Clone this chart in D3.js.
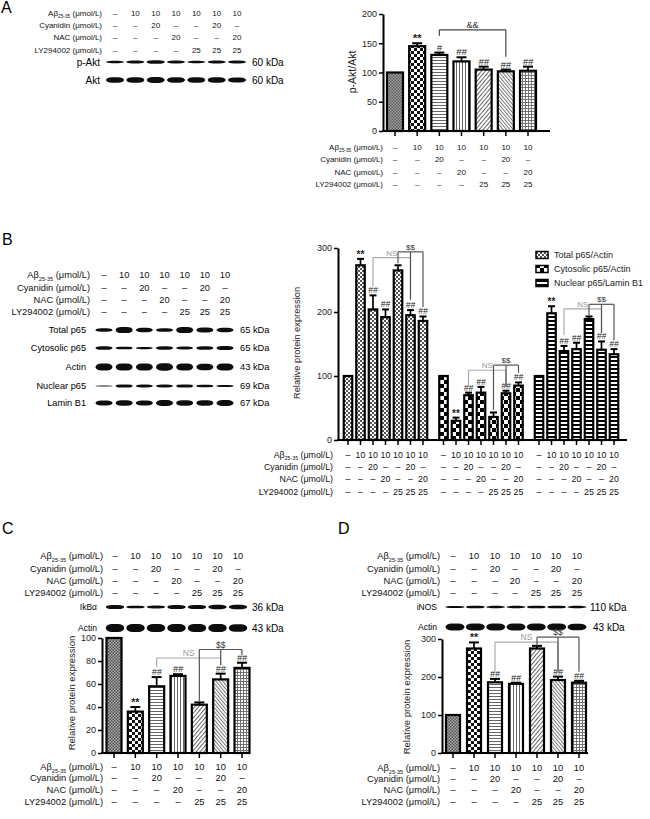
<!DOCTYPE html>
<html><head><meta charset="utf-8">
<script src="https://cdn.jsdelivr.net/npm/d3@7"></script>
<style>body{margin:0;background:#fff} svg{display:block;font-family:Arial,"Liberation Sans",sans-serif}</style>
</head><body><svg id="c" width="650" height="819"></svg>
<script>
// ---------------- DATA ----------------
const condNames = ["Aβ25-35 (μmol/L)", "Cyanidin (μmol/L)", "NAC (μmol/L)", "LY294002 (μmol/L)"];
const abetaDose = ["–","10","10","10","10","10","10"];
const cyanidinDose = ["–","–","20","–","–","20","–"];
const nacDose = ["–","–","–","20","–","–","20"];
const lyDose = ["–","–","–","–","25","25","25"];
const doseRows = [abetaDose, cyanidinDose, nacDose, lyDose];

// Panel A
const pAktMean = [100,145,130,119,105,102,103];
const pAktSem  = [0,5,4,7,5,3,7];
const pAktMarks = ["","**","#","##","##","##","##"];
const aTicks = [0,50,100,150,200];
const aBrackets = [{label:"&&", color:"#444", from:2, to:5, level:173, drops:[[2,163],[5,127]]}];

// Panel B
const p65Series = ["Total p65/Actin","Cytosolic p65/Actin","Nuclear p65/Lamin B1"];
const totalP65Mean = [100,273,204,192,265,195,186];
const totalP65Sem  = [0,10,22,12,8,8,7];
const cytoP65Mean  = [100,30,70,74,36,73,85];
const cytoP65Sem   = [0,5,4,9,7,4,5];
const nucP65Mean   = [100,198,139,142,189,141,134];
const nucP65Sem    = [0,11,8,10,4,13,8];
const bTicks = [0,100,200,300];
const sigMarks = ["","**","##","##","","##","##"];
const bBrackets = [
  [{label:"NS", color:"#aaa", from:2, to:5, level:285, drops:[[2,240],[5,219]]},
   {label:"$$", color:"#555", from:4, to:6, level:294, drops:[[4,276],[5,219],[6,208]]}],
  [{label:"NS", color:"#aaa", from:2, to:5, level:109, drops:[[2,83],[5,83]]},
   {label:"$$", color:"#555", from:4, to:6, level:117, drops:[[4,47],[5,83],[6,105]]}],
  [{label:"NS", color:"#aaa", from:2, to:5, level:205, drops:[[2,164],[5,167]]},
   {label:"$$", color:"#555", from:4, to:6, level:212, drops:[[4,193],[5,167],[6,156]]}]
];

// Panel C
const ikbaMean = [100,36,58,67,42,64,74];
const ikbaSem  = [0,4,8,1.5,2,5,4.5];
const cTicks = [0,20,40,60,80,100];
const cBrackets = [
  {label:"NS", color:"#aaa", from:2, to:5, level:82.6, drops:[[2,75],[5,76.5]]},
  {label:"$$", color:"#555", from:4, to:6, level:90, drops:[[4,44.6],[5,76.5],[6,85]]}
];

// Panel D
const inosMean = [100,275,186,182,275,192,185];
const inosSem  = [0,16,9,3,7,9,5];
const dTicks = [0,100,200,300];
const dBrackets = [
  {label:"NS", color:"#aaa", from:2, to:5, level:292, drops:[[2,214],[5,214]]},
  {label:"$$", color:"#555", from:4, to:6, level:305, drops:[[4,282],[5,214],[6,214]]}
];

// Western blot band intensities (relative thickness per lane)
const blotA = [
  {name:"p-Akt", kda:"60 kDa", band:[0.7,0.9,1.0,0.9,0.7,0.8,0.8]},
  {name:"Akt",   kda:"60 kDa", band:[1.0,1.0,1.05,1.0,1.0,1.0,0.95]}
];
const blotB = [
  {name:"Total p65",     kda:"65 kDa", band:[0.6,1.1,0.8,0.65,1.1,0.9,0.8]},
  {name:"Cytosolic p65", kda:"65 kDa", band:[0.8,0.6,0.5,0.8,0.7,0.8,0.9]},
  {name:"Actin",         kda:"43 kDa", band:[1.0,1.0,1.0,1.05,1.0,0.95,1.0]},
  {name:"Nuclear p65",   kda:"69 kDa", band:[0.2,0.8,0.7,0.7,0.8,0.6,0.5]},
  {name:"Lamin B1",      kda:"67 kDa", band:[0.8,0.9,0.8,1.0,0.9,0.9,1.0]}
];
const blotC = [
  {name:"IkBα",  kda:"36 kDa", band:[0.9,0.6,0.7,0.9,0.9,1.0,1.0]},
  {name:"Actin", kda:"43 kDa", band:[1.0,1.0,1.0,1.0,1.0,1.0,0.95]}
];
const blotD = [
  {name:"iNOS",  kda:"110 kDa", band:[0.7,0.9,0.8,0.8,0.9,0.9,0.8]},
  {name:"Actin", kda:"43 kDa",  band:[1.0,1.0,1.0,1.0,1.0,1.0,0.95]}
];

const barFills = ["pDense","pChecker","pHoriz","pVert","pDiagA","pDiagB","pGrid"];
const p65Fills = ["pFineCheck","pBigCheck","pStripe"];

// ---------------- DRAWING ----------------
const FONT = "Arial, 'Liberation Sans', sans-serif";
const svg = d3.select("#c");
const defs = svg.append("defs");

function pat(id, w, h, draw, transform) {
  const p = defs.append("pattern").attr("id", id).attr("patternUnits","userSpaceOnUse")
    .attr("width", w).attr("height", h);
  if (transform) p.attr("patternTransform", transform);
  draw(p);
}
function rect(p, x, y, w, h, c) { p.append("rect").attr("x",x).attr("y",y).attr("width",w).attr("height",h).attr("fill",c); }
pat("pDense", 3, 3, p => { rect(p,0,0,3,3,"#a8a8a8"); rect(p,0,0,1.5,1.5,"#555"); rect(p,1.5,1.5,1.5,1.5,"#555"); });
pat("pChecker", 6, 6, p => { rect(p,0,0,6,6,"#fff"); rect(p,0,0,3,3,"#111"); rect(p,3,3,3,3,"#111"); });
pat("pHoriz", 4, 3, p => { rect(p,0,0,4,3,"#fff"); rect(p,0,0,4,1,"#666"); });
pat("pVert", 3, 4, p => { rect(p,0,0,3,4,"#fff"); rect(p,0,0,1,4,"#666"); });
pat("pDiagA", 3, 4, p => { rect(p,0,0,3,4,"#fff"); rect(p,0,0,1,4,"#666"); }, "rotate(40)");
pat("pDiagB", 2.6, 4, p => { rect(p,0,0,2.6,4,"#fff"); rect(p,0,0,1,4,"#777"); }, "rotate(-40)");
pat("pGrid", 3, 3, p => { rect(p,0,0,3,3,"#fff"); rect(p,0,0,3,0.9,"#666"); rect(p,0,0,0.9,3,"#666"); });
pat("pFineCheck", 4, 4, p => { rect(p,0,0,4,4,"#fff"); rect(p,0,0,2,2,"#555"); rect(p,2,2,2,2,"#555"); });
pat("pBigCheck", 8, 8, p => { rect(p,0,0,8,8,"#fff"); rect(p,0,0,4,4,"#000"); rect(p,4,4,4,4,"#000"); });
pat("pStripe", 4, 4, p => { rect(p,0,0,4,4,"#fff"); rect(p,0,0,4,2,"#000"); });

const blur = defs.append("filter").attr("id","blur").attr("x","-20%").attr("y","-50%").attr("width","140%").attr("height","200%");
blur.append("feGaussianBlur").attr("stdDeviation",0.7);

function bandFrom(axisX, c0, cN, bw, n = 7) {
  const step = (cN - c0) / (n - 1);
  const pi = 1 - bw / step;
  const po = (c0 - bw / 2 - axisX) / step;
  return d3.scaleBand().domain(d3.range(n)).range([axisX, axisX + step * (n - pi + 2 * po)])
    .paddingInner(pi).paddingOuter(po);
}

function panelLetter(t, x, y) {
  svg.append("text").attr("x", x).attr("y", y).attr("font-size", 16).text(t);
}

function writeCond(t, name, r, fs) {
  if (r === 0) {
    t.append("tspan").text("Aβ");
    t.append("tspan").attr("font-size", fs * 0.6).attr("dy", fs * 0.25).text("25-35");
    t.append("tspan").attr("dy", -fs * 0.25).text(" (μmol/L)");
  } else t.text(name);
}

function condTable(xsGroups, ys, labelRight, fs) {
  const g = svg.append("g").attr("font-size", fs).attr("fill", "#111");
  condNames.forEach((name, r) => {
    const t = g.append("text").attr("x", labelRight).attr("y", ys[r]).attr("dy", "0.35em").attr("text-anchor", "end");
    writeCond(t, name, r, fs);
    xsGroups.forEach(xs => {
      g.append("g").selectAll("text").data(doseRows[r]).join("text")
        .attr("x", (d, i) => xs[i]).attr("y", ys[r]).attr("dy", "0.35em")
        .attr("text-anchor", "middle").text(d => d);
    });
  });
}

function blot(rows, lanes, ys, thick, bw, labelRight, kdaX, fsLabel, fsKda) {
  const g = svg.append("g");
  rows.forEach((row, r) => {
    g.append("text").attr("x", labelRight).attr("y", ys[r]).attr("dy", "0.35em").attr("text-anchor", "end")
      .attr("font-size", fsLabel).text(row.name);
    g.append("text").attr("x", kdaX[r] !== undefined ? kdaX[r] : kdaX[0]).attr("y", ys[r]).attr("dy", "0.35em")
      .attr("font-size", fsKda).text(row.kda);
    g.append("g").attr("filter", "url(#blur)").selectAll("rect").data(row.band).join("rect")
      .attr("x", (d, i) => lanes(i) - bw / 2).attr("width", bw)
      .attr("y", d => ys[r] - thick[r] * d / 2).attr("height", d => thick[r] * d)
      .attr("rx", bw / 3).attr("ry", d => thick[r] * d / 2)
      .attr("fill", "#111");
  });
}

function yAxis(y, axisX, ticks, fs) {
  const g = svg.append("g").attr("transform", `translate(${axisX},0)`)
    .call(d3.axisLeft(y).tickValues(ticks).tickSize(4).tickSizeOuter(0).tickPadding(2));
  g.attr("font-family", FONT);
  g.select(".domain").attr("stroke-width", 2);
  g.selectAll(".tick line").attr("stroke-width", 1.5);
  g.selectAll(".tick text").attr("font-size", fs).attr("fill", "#222");
}

function xAxis(y0, axisX, axisEnd, centers) {
  const g = svg.append("g");
  g.append("line").attr("x1", axisX - 1).attr("x2", axisEnd).attr("y1", y0).attr("y2", y0)
    .attr("stroke", "#000").attr("stroke-width", 2);
  g.selectAll("line.t").data(centers).join("line").attr("class", "t")
    .attr("x1", d => d).attr("x2", d => d).attr("y1", y0).attr("y2", y0 + 5)
    .attr("stroke", "#000").attr("stroke-width", 1.5);
}

function yLabel(text, x, y, fs) {
  svg.append("text").attr("transform", `translate(${x},${y}) rotate(-90)`).attr("text-anchor", "middle")
    .attr("font-size", fs).attr("fill", "#222").text(text);
}

function bars(means, sems, xc, bw, y, fillFn, marks, capW, fsMark) {
  const g = svg.append("g");
  const pts = means.map((m, i) => ({ i, m, s: sems[i], mark: marks[i] }));
  const withErr = pts.filter(p => p.s > 0);
  g.selectAll("line.e").data(withErr).join("line").attr("class", "e")
    .attr("x1", p => xc(p.i)).attr("x2", p => xc(p.i))
    .attr("y1", p => y(p.m)).attr("y2", p => y(p.m + p.s))
    .attr("stroke", "#000").attr("stroke-width", 1.7);
  g.selectAll("line.c").data(withErr).join("line").attr("class", "c")
    .attr("x1", p => xc(p.i) - capW / 2).attr("x2", p => xc(p.i) + capW / 2)
    .attr("y1", p => y(p.m + p.s)).attr("y2", p => y(p.m + p.s))
    .attr("stroke", "#000").attr("stroke-width", 2);
  g.selectAll("rect").data(pts).join("rect")
    .attr("x", p => xc(p.i) - bw / 2).attr("width", bw)
    .attr("y", p => y(p.m)).attr("height", p => y(0) - y(p.m))
    .attr("fill", p => `url(#${fillFn(p.i)})`).attr("stroke", "#000").attr("stroke-width", 2.2);
  g.selectAll("text").data(pts.filter(p => p.mark)).join("text")
    .attr("x", p => xc(p.i)).attr("y", p => y(p.m + p.s) - (p.mark === "**" ? 1 : 2))
    .attr("text-anchor", "middle").attr("font-size", p => p.mark === "**" ? fsMark + 1.5 : fsMark)
    .attr("font-weight", p => p.mark === "**" ? "bold" : "normal")
    .attr("font-style", p => p.mark.startsWith("#") ? "italic" : "normal")
    .attr("fill", "#222").text(p => p.mark);
}

function brackets(list, xc, y, fs) {
  const g = svg.append("g");
  list.forEach(b => {
    const ly = y(b.level);
    g.append("line").attr("x1", xc(b.from)).attr("x2", xc(b.to)).attr("y1", ly).attr("y2", ly)
      .attr("stroke", b.color).attr("stroke-width", 1.2);
    b.drops.forEach(([i, v]) => {
      g.append("line").attr("x1", xc(i)).attr("x2", xc(i)).attr("y1", ly).attr("y2", y(v))
        .attr("stroke", b.color).attr("stroke-width", 1.2);
    });
    g.append("text").attr("x", (xc(b.from) + xc(b.to)) / 2).attr("y", ly - 2)
      .attr("text-anchor", "middle").attr("font-size", fs)
      .attr("fill", b.color === "#aaa" ? "#999" : "#333").text(b.label);
  });
}

// ================= PANEL A =================
panelLetter("A", 1, 13);
const lanesA = d3.scalePoint().domain(d3.range(7)).range([115, 237]);
condTable([d3.range(7).map(lanesA)], [13, 25, 37, 50], 102, 8);
blot(blotA, lanesA, [62, 80], [3.5, 5.5], 18, 100, [252], 10, 10);

const xA = bandFrom(383, 395, 528, 16);
const yA = d3.scaleLinear().domain([0, 200]).range([131, 14]);
const cA = i => xA(i) + xA.bandwidth() / 2;
yAxis(yA, 383, aTicks, 9);
bars(pAktMean, pAktSem, cA, xA.bandwidth(), yA, i => barFills[i], pAktMarks, 10, 9.5);
xAxis(yA(0), 383, 550, d3.range(7).map(cA));
brackets(aBrackets, cA, yA, 9);
yLabel("p-Akt/Akt", 356, 72, 10.5);
condTable([d3.range(7).map(cA)], [147, 159, 172, 184], 383, 8);

// ================= PANEL B =================
panelLetter("B", 2, 245);
const lanesB = d3.scalePoint().domain(d3.range(7)).range([104, 225]);
condTable([d3.range(7).map(lanesB)], [275, 288, 300, 312], 90, 9.3);
blot(blotB, lanesB, [330, 348, 367, 386, 403], [5.5, 4.5, 7, 4, 6], 17, 86, [240], 9.2, 9.3);

const x0B = d3.scaleBand().domain([0, 1, 2]).range([341.75, 620.25]).paddingInner(0.084).paddingOuter(0);
const xiB = d3.scaleBand().domain(d3.range(7)).range([0, x0B.bandwidth()]).paddingInner(0.32).paddingOuter(0.16);
const yB = d3.scaleLinear().domain([0, 300]).range([440, 248]);
yAxis(yB, 338, bTicks, 9);
const bMeans = [totalP65Mean, cytoP65Mean, nucP65Mean];
const bSems = [totalP65Sem, cytoP65Sem, nucP65Sem];
const bCenters = [];
bMeans.forEach((m, gi) => {
  const xc = i => x0B(gi) + xiB(i) + xiB.bandwidth() / 2;
  bCenters.push(d3.range(7).map(xc));
  bars(m, bSems[gi], xc, xiB.bandwidth(), yB, () => p65Fills[gi], sigMarks, 7, 8.5);
  brackets(bBrackets[gi], xc, yB, 8);
});
xAxis(yB(0), 338, 627, bCenters.flat());
yLabel("Relative protein expression", 300, 343, 9.3);
condTable(bCenters, [455, 467, 479, 492], 333, 8.8);

// legend
const leg = svg.append("g");
p65Series.forEach((s, i) => {
  const yy = 255 + i * 14;
  leg.append("rect").attr("x", 536).attr("y", yy - 3.5).attr("width", 12).attr("height", 7)
    .attr("fill", `url(#${p65Fills[i]})`).attr("stroke", "#000").attr("stroke-width", 1.5);
  leg.append("text").attr("x", 554).attr("y", yy).attr("dy", "0.35em").attr("font-size", 9).attr("fill", "#222").text(s);
});

// ================= PANEL C =================
panelLetter("C", 2, 534);
const lanesC = d3.scalePoint().domain(d3.range(7)).range([115, 238]);
condTable([d3.range(7).map(lanesC)], [556, 569, 581, 593], 103, 9.3);
blot(blotC, lanesC, [607, 628], [4.5, 8], 18.5, 97, [252], 8.5, 10);

const xC = bandFrom(102, 114, 242, 15);
const yC = d3.scaleLinear().domain([0, 100]).range([753, 638]);
const cC = i => xC(i) + xC.bandwidth() / 2;
yAxis(yC, 102, cTicks, 9);
bars(ikbaMean, ikbaSem, cC, xC.bandwidth(), yC, i => barFills[i], sigMarks, 10, 9);
xAxis(yC(0), 102, 249, d3.range(7).map(cC));
brackets(cBrackets, cC, yC, 8.5);
yLabel("Relative protein expression", 75, 693, 9.5);
condTable([d3.range(7).map(cC)], [767, 778, 790, 802], 103, 9.3);

// ================= PANEL D =================
panelLetter("D", 338, 534);
const lanesD = d3.scalePoint().domain(d3.range(7)).range([455, 577]);
condTable([[453, 474, 495, 515, 536, 556, 577]], [556, 569, 581, 593], 440, 9.3);
blot(blotD, lanesD, [607, 627], [3, 7], 19, 437, [590, 593], 8.5, 10);

const xD = bandFrom(442, 453, 579, 14);
const yD = d3.scaleLinear().domain([0, 300]).range([753, 639]);
const cD = i => xD(i) + xD.bandwidth() / 2;
yAxis(yD, 442, dTicks, 9);
bars(inosMean, inosSem, cD, xD.bandwidth(), yD, i => barFills[i], sigMarks, 10, 9);
xAxis(yD(0), 442, 588, d3.range(7).map(cD));
brackets(dBrackets, cD, yD, 8.5);
yLabel("Relative protein expression", 410, 697, 9.5);
condTable([d3.range(7).map(cD)], [768, 779, 790, 802], 440, 9.3);
</script></body></html>
